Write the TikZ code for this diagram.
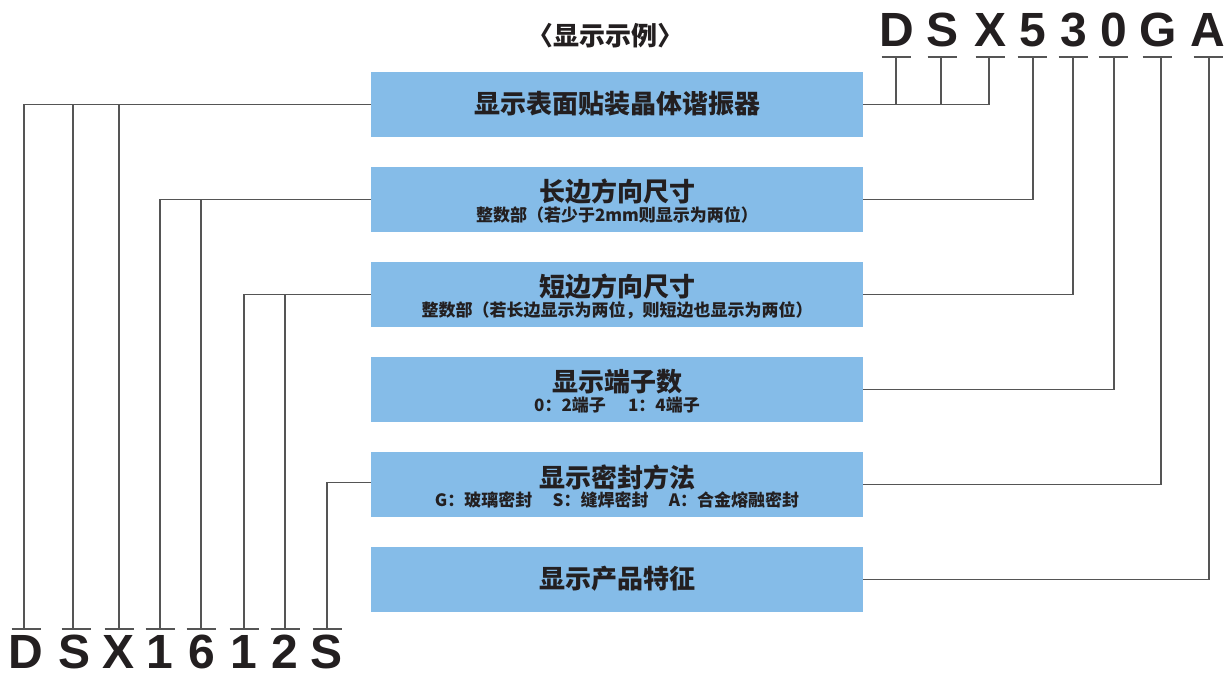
\documentclass[tikz,border=0pt]{standalone}
\usepackage{fontspec}
\setmainfont{Liberation Sans}
\newfontfamily\cjk{Noto Sans CJK SC}
\definecolor{boxblue}{RGB}{133,188,232}
\definecolor{ink}{RGB}{35,31,32}
\definecolor{lineg}{RGB}{85,85,85}
\begin{document}
\begin{tikzpicture}[x=1pt,y=-1pt,
  box/.style={fill=boxblue, minimum width=492pt, minimum height=65pt, inner sep=0pt, anchor=north west},
  ttl/.style={font=\cjk\bfseries\fontsize{26}{26}\selectfont, text=ink, inner sep=0pt},
  sub/.style={font=\cjk\bfseries\fontsize{17}{17}\selectfont, text=ink, inner sep=0pt},
  big/.style={font=\bfseries\fontsize{48}{48}\selectfont, text=ink, inner sep=0pt, anchor=base},
  conn/.style={draw=lineg, line width=1.2pt},
  barline/.style={draw=lineg, line width=1.2pt},
]
\useasboundingbox (0,0) rectangle (1224,674);

% boxes
\node[box] (b1) at (371,72) {};
\node[box] (b2) at (371,167) {};
\node[box] (b3) at (371,262) {};
\node[box] (b4) at (371,357) {};
\node[box] (b5) at (371,452) {};
\node[box] (b6) at (371,547) {};

% heading
\node[ttl] (head) at (605,36) {〈显示示例〉};

% box texts
\node[ttl] (t1) at (617,104) {显示表面贴装晶体谐振器};
\node[ttl] (t2) at (617,192) {长边方向尺寸};
\node[sub] (s2) at (617,215) {整数部（若少于2mm则显示为两位）};
\node[ttl] (t3) at (617,287) {短边方向尺寸};
\node[sub] (s3) at (617,310) {整数部（若长边显示为两位，则短边也显示为两位）};
\node[ttl] (t4) at (617,382) {显示端子数};
\node[sub] (s4) at (617,405) {0：2端子\hspace{1.3em}1：4端子};
\node[ttl] (t5) at (617,477) {显示密封方法};
\node[sub] (s5) at (617,500) {G：玻璃密封\hspace{1.2em}S：缝焊密封\hspace{1.2em}A：合金熔融密封};
\node[ttl] (t6) at (617,579) {显示产品特征};

% top letters
\node[big] (tD) at (897,47) {D};
\node[big] (tS) at (942,47) {S};
\node[big] (tX) at (990,47) {X};
\node[big] (t5n) at (1033,47) {5};
\node[big] (t3n) at (1074,47) {3};
\node[big] (t0n) at (1114,47) {0};
\node[big] (tG) at (1158,47) {G};
\node[big] (tA) at (1208,47) {A};

\coordinate (pD) at (896,57);
\coordinate (pS) at (941,57);
\coordinate (pX) at (989,57);
\coordinate (p5) at (1033,57);
\coordinate (p3) at (1073,57);
\coordinate (p0) at (1114,57);
\coordinate (pG) at (1161,57);
\coordinate (pA) at (1209,57);
\foreach \c in {896,942,990,1032,1073,1113,1157,1208}{
  \draw[barline] (\c-14.5,57) -- (\c+14.5,57);
}

% right connectors
\draw[conn] (b1.east) -| (pX);
\draw[conn] (pD) -- (pD |- b1.east);
\draw[conn] (pS) -- (pS |- b1.east);
\draw[conn] (p5) |- (b2.east);
\draw[conn] (p3) |- (b3.east);
\draw[conn] (p0) |- (b4.east);
\draw[conn] (pG) |- (b5.east);
\draw[conn] (pA) |- (b6.east);

% bottom letters
\node[big] (bD) at (26,668) {D};
\node[big] (bS) at (75,668) {S};
\node[big] (bX) at (119,668) {X};
\node[big] (b1n) at (160,668) {1};
\node[big] (b6n) at (202,668) {6};
\node[big] (b1m) at (244,668) {1};
\node[big] (b2n) at (285,668) {2};
\node[big] (bS2) at (327,668) {S};

\coordinate (qD) at (24,629);
\coordinate (qS) at (73,629);
\coordinate (qX) at (119,629);
\coordinate (q1) at (160,629);
\coordinate (q6) at (201,629);
\coordinate (q1b) at (244,629);
\coordinate (q2) at (285,629);
\coordinate (qS2) at (327,629);
\foreach \c in {26,76,119,160,201,244,285,327}{
  \draw[barline] (\c-14.5,629) -- (\c+14.5,629);
}

% left connectors
\draw[conn] (b1.west) -| (qD);
\draw[conn] (qS) -- (qS |- b1.west);
\draw[conn] (qX) -- (qX |- b1.west);
\draw[conn] (b2.west) -| (q1);
\draw[conn] (q6) -- (q6 |- b2.west);
\draw[conn] (b3.west) -| (q1b);
\draw[conn] (q2) -- (q2 |- b3.west);
\draw[conn] ([yshift=2pt]b5.west) -| (qS2);
\end{tikzpicture}
\end{document}
